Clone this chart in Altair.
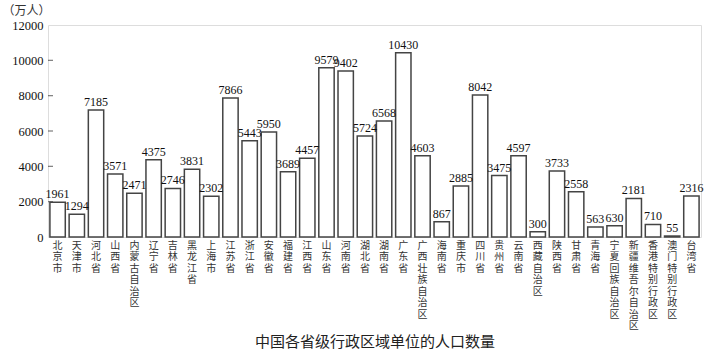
import altair as alt
import pandas as pd

provinces = ["北京市", "天津市", "河北省", "山西省", "内蒙古自治区", "辽宁省", "吉林省", "黑龙江省",
             "上海市", "江苏省", "浙江省", "安徽省", "福建省", "江西省", "山东省", "河南省",
             "湖北省", "湖南省", "广东省", "广西壮族自治区", "海南省", "重庆市", "四川省", "贵州省",
             "云南省", "西藏自治区", "陕西省", "甘肃省", "青海省", "宁夏回族自治区", "新疆维吾尔自治区",
             "香港特别行政区", "澳门特别行政区", "台湾省"]
population = [1961, 1294, 7185, 3571, 2471, 4375, 2746, 3831,
              2302, 7866, 5443, 5950, 3689, 4457, 9579, 9402,
              5724, 6568, 10430, 4603, 867, 2885, 8042, 3475,
              4597, 300, 3733, 2558, 563, 630, 2181,
              710, 55, 2316]
y_ticks = [2000, 4000, 6000, 8000, 10000]
y_labels = [0, 2000, 4000, 6000, 8000, 10000, 12000]

df = pd.DataFrame({"province": provinces, "pop": population})
tick_df = pd.DataFrame({"pop": y_ticks})

serif = "Liberation Serif"
cjk = "Noto Sans CJK SC"

x_enc = alt.X("province:N", sort=provinces,
              scale=alt.Scale(paddingInner=0.2, paddingOuter=0.1),
              axis=alt.Axis(title="中国各省级行政区域单位的人口数量",
                            titleFont=cjk, titleFontSize=15, titleFontWeight="normal",
                            titleColor="#222", titleY=104, titleBaseline="middle",
                            labelAngle=0, labelExpr="split(datum.label, '')",
                            labelFont=cjk, labelFontSize=10, labelLineHeight=11.5,
                            labelColor="#333", labelBaseline="top", labelPadding=3,
                            ticks=False, domain=False))
y_enc = alt.Y("pop:Q", scale=alt.Scale(domain=[0, 12000]),
              axis=alt.Axis(title="（万人）", titleAngle=0, titleX=-46, titleY=-8,
                            titleAlign="left", titleBaseline="bottom", titleFont=cjk,
                            titleFontSize=12, titleFontWeight="normal", titleColor="#333",
                            values=y_labels, format="d", labelOverlap=False,
                            labelFont=serif, labelFontSize=12.5, labelColor="#111",
                            labelPadding=5, ticks=False, domain=False, grid=False))

bars = alt.Chart(df).mark_bar(fill="white", stroke="#444", strokeWidth=1.5).encode(
    x=x_enc, y=y_enc)

labels = alt.Chart(df).mark_text(font=serif, fontSize=12, color="#111",
                                 baseline="bottom", dy=-1).encode(
    x=x_enc, y=y_enc, text="pop:Q")

ticks = alt.Chart(tick_df).mark_tick(orient="horizontal", size=5, color="#444",
                                     thickness=1.2).encode(
    x=alt.value(2.5), y=y_enc)

chart = alt.layer(bars, labels, ticks).properties(
    width=653, height=212,
    autosize=alt.AutoSizeParams(type="none"),
    padding={"left": 48, "top": 25, "right": 4, "bottom": 117},
).configure_view(stroke="#333", strokeWidth=1.5).configure(background="white")

chart.save("out.html", embed_options={"renderer": "svg", "actions": False})
